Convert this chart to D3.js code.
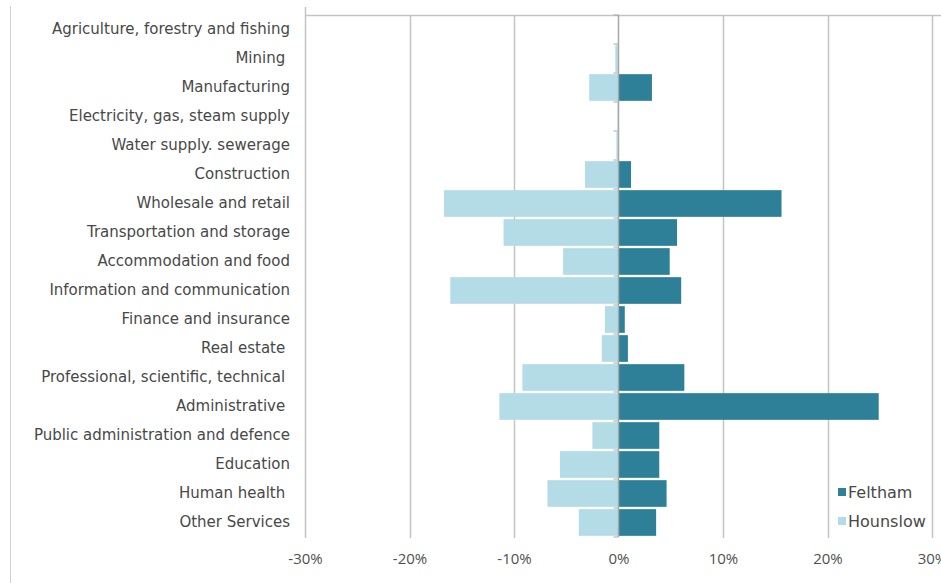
<!DOCTYPE html>
<html>
<head>
<meta charset="utf-8">
<script src="https://cdn.jsdelivr.net/npm/d3@7"></script>
<style>
	body { margin: 0; background: #fff; }
	svg { display: block; }
	.cat text { font-family: "DejaVu Sans", sans-serif; font-size: 15px; fill: #484848; white-space: pre; }
	.x-axis text { font-family: "Open Sans", sans-serif; font-size: 15px; fill: #505050; }
	.legend text { font-family: "DejaVu Sans", sans-serif; font-size: 16px; fill: #484848; }
</style>
</head>
<body>
<div class="chart"></div>
<script>

// data, in percent
const categories = [
	"Agriculture, forestry and fishing",
	"Mining ",
	"Manufacturing",
	"Electricity, gas, steam supply",
	"Water supply. sewerage",
	"Construction",
	"Wholesale and retail",
	"Transportation and storage",
	"Accommodation and food",
	"Information and communication",
	"Finance and insurance",
	"Real estate ",
	"Professional, scientific, technical ",
	"Administrative ",
	"Public administration and defence",
	"Education",
	"Human health ",
	"Other Services"
];
const feltham = [0, 0, 3.2, 0, 0, 1.2, 15.6, 5.6, 4.9, 6.0, 0.6, 0.9, 6.3, 24.9, 3.9, 3.9, 4.6, 3.6];
const hounslow = [0, -0.3, -2.8, -0.1, -0.2, -3.2, -16.7, -11.0, -5.3, -16.1, -1.3, -1.6, -9.2, -11.4, -2.5, -5.6, -6.8, -3.8];
const xTicks = [-30, -20, -10, 0, 10, 20, 30];
const seriesNames = ["Feltham", "Hounslow"];
const colors = ["#2d8098", "#b3dce6"];

const width = 941;
const height = 583;
const plotLeft = 305, plotRight = 932, plotTop = 15, plotBottom = 537;

const x = d3.scaleLinear().domain([-30, 30]).range([plotLeft, plotRight]);
const y = d3.scaleBand().domain(categories).range([plotTop, plotBottom]).paddingInner(0.08).paddingOuter(0.04);
const yStep = d3.scaleBand().domain(categories).range([plotTop, plotBottom]);

const svg = d3.select(".chart")
	.append("svg")
		.attr("width", width)
		.attr("height", height);

// frame lines
svg.append("line")
	.attr("x1", 10.5).attr("x2", 10.5)
	.attr("y1", 6).attr("y2", height)
	.attr("stroke", "#d0d0d0");

svg.append("line")
	.attr("x1", plotLeft).attr("x2", width)
	.attr("y1", plotTop + 0.5).attr("y2", plotTop + 0.5)
	.attr("stroke", "#c4c4c4")
	.attr("stroke-width", 1.5);

// gridlines
svg.append("g")
	.selectAll("line")
		.data(xTicks.filter((d) => d !== 0 && d !== -30)).enter()
	.append("line")
		.attr("x1", (d) => Math.round(x(d)) + 0.5)
		.attr("x2", (d) => Math.round(x(d)) + 0.5)
		.attr("y1", plotTop)
		.attr("y2", plotBottom + 1)
		.attr("stroke", "#c4c4c4")
		.attr("stroke-width", 1.5);

svg.append("line")
	.attr("x1", plotLeft + 0.5).attr("x2", plotLeft + 0.5)
	.attr("y1", 7).attr("y2", plotBottom + 1)
	.attr("stroke", "#c4c4c4")
	.attr("stroke-width", 1.5);

// bars
const rows = categories.map((c, i) => ({ cat: c, f: feltham[i], h: hounslow[i] }));

svg.append("g")
	.selectAll(".hounslow")
		.data(rows).enter()
	.append("rect")
		.attr("class", "hounslow")
		.attr("x", (d) => x(Math.min(0, d.h)))
		.attr("y", (d) => y(d.cat))
		.attr("width", (d) => Math.abs(x(d.h) - x(0)))
		.attr("height", y.bandwidth())
		.attr("fill", colors[1]);

svg.append("g")
	.selectAll(".feltham")
		.data(rows).enter()
	.append("rect")
		.attr("class", "feltham")
		.attr("x", (d) => x(Math.min(0, d.f)))
		.attr("y", (d) => y(d.cat))
		.attr("width", (d) => Math.abs(x(d.f) - x(0)))
		.attr("height", y.bandwidth())
		.attr("fill", colors[0]);

// zero axis with ticks between categories
const x0 = Math.round(x(0)) - 0.5;
svg.append("line")
	.attr("x1", x0).attr("x2", x0)
	.attr("y1", plotTop).attr("y2", plotBottom)
	.attr("stroke", "#a8a8a8")
	.attr("stroke-width", 1.5);

const bounds = categories.map((c) => yStep(c)).concat([plotBottom]);
svg.append("g")
	.selectAll("line")
		.data(bounds).enter()
	.append("line")
		.attr("x1", x0 - 5).attr("x2", x0)
		.attr("y1", (d) => d)
		.attr("y2", (d) => d)
		.attr("stroke", "#a8a8a8");

// category labels
const catAxis = d3.axisLeft(yStep).tickSize(0).tickPadding(15);
svg.append("g")
	.attr("class", "cat")
	.attr("transform", `translate(${plotLeft},0)`)
	.call(catAxis)
	.call((g) => g.select(".domain").remove());

// x axis labels
const axis = d3.axisBottom(x)
	.tickValues(xTicks)
	.tickSize(0)
	.tickPadding(16)
	.tickFormat((d) => `${d}%`);
svg.append("g")
	.attr("class", "x-axis")
	.attr("transform", `translate(0,${plotBottom})`)
	.call(axis)
	.call((g) => g.select(".domain").remove());

// legend
const legend = svg.append("g")
	.attr("class", "legend")
	.selectAll("g")
		.data(seriesNames).enter()
	.append("g")
		.attr("transform", (d, i) => `translate(838,${492 + i * 29})`);

legend.append("rect")
	.attr("x", 0).attr("y", -4)
	.attr("width", 8).attr("height", 8)
	.attr("fill", (d, i) => colors[i]);

legend.append("text")
	.attr("x", 10)
	.attr("dy", "0.35em")
	.text((d) => d);

</script>
</body>
</html>
